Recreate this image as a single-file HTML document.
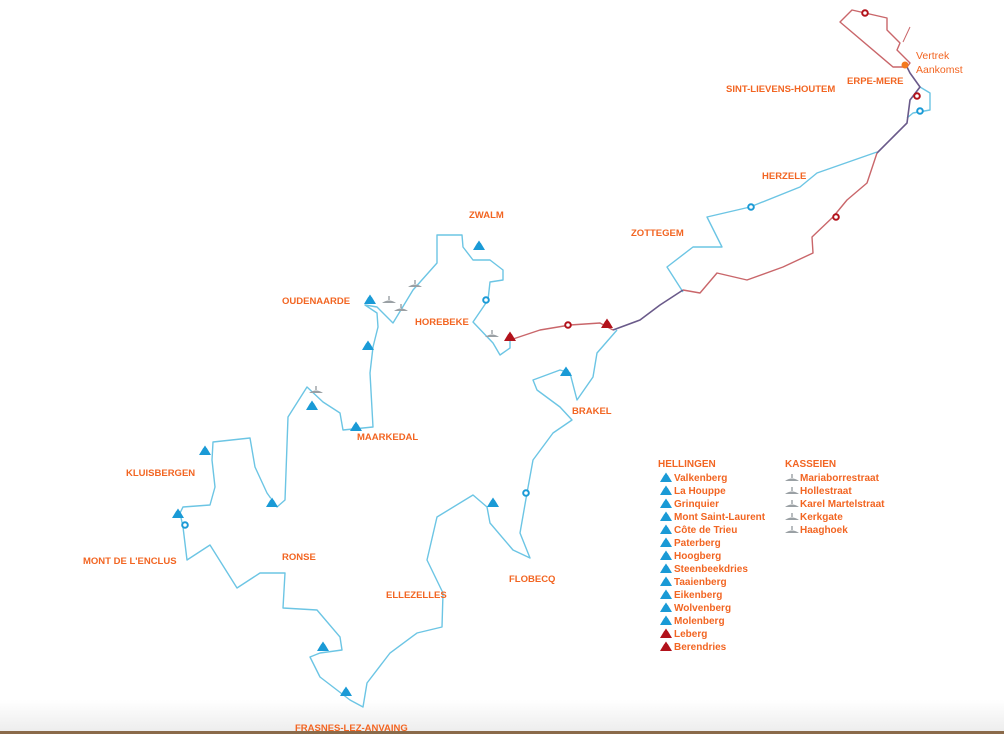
<!DOCTYPE html>
<html><head><meta charset="utf-8"><style>
html,body{margin:0;padding:0;background:#fff;}
body{width:1004px;height:734px;overflow:hidden;position:relative;font-family:"Liberation Sans",sans-serif;}
svg{position:absolute;left:0;top:0;}
.l{font-family:"Liberation Sans",sans-serif;font-weight:bold;fill:#f26522;font-size:9.5px;}
.g{font-family:"Liberation Sans",sans-serif;font-weight:bold;fill:#f26522;font-size:10px;}
</style></head><body>
<svg width="1004" height="734" viewBox="0 0 1004 734">
<defs>
<linearGradient id="bg" x1="0" y1="0" x2="0" y2="1"><stop offset="0" stop-color="#fff"/><stop offset="1" stop-color="#ececec"/></linearGradient>
<g id="hb"><path d="M-6,4 L0,-6 L6,4 Z" fill="#1a9ad6"/><path d="M-2,-3 L0,-6 L2,-3" fill="none" stroke="#fff" stroke-width="0.6"/></g>
<g id="hr"><path d="M-6,4 L0,-6 L6,4 Z" fill="#b2121b"/><path d="M-2,-3 L0,-6 L2,-3" fill="none" stroke="#fff" stroke-width="0.6"/></g>
<g id="kc"><path d="M-7,2 Q0,-3 7,2 Z" fill="#9aa0a4"/><rect x="-0.7" y="-5" width="1.4" height="4" fill="#9aa0a4"/></g>
</defs>
<rect x="0" y="700" width="1004" height="34" fill="url(#bg)"/>
<rect x="0" y="731" width="1004" height="3" fill="#8a6a4a"/>

<polyline fill="none" stroke="#6cc5e4" stroke-width="1.4" stroke-linejoin="round" points="617,330 597,353 593,377 577,400 570,373 560,370 533,380 537,390 560,407 572,420 553,433 533,460 527,493 520,533 530,558 513,550 490,523 487,507 473,495 437,517 427,560 443,593 442,627 417,633 390,653 367,683 363,707 350,700 320,677 310,657 320,653 342,650 340,637 317,610 283,608 285,573 260,573 237,588 210,545 187,560 183,527 180,513 183,507 210,505 215,487 212,460 213,442 250,438 255,467 267,493 277,507 285,500 288,417 307,387 323,402 340,413 343,430 373,427 370,373 373,347 378,327 377,313 365,305 377,307 393,323 413,290 437,263 437,235 462,235 463,247 473,260 490,260 503,270 503,280 490,282 488,300 473,322 493,343 500,355 510,348 510,333"/>
<polyline fill="none" stroke="#6cc5e4" stroke-width="1.4" stroke-linejoin="round" points="683,292 667,267 693,247 722,247 707,217 750,207 800,187 817,173 877,152"/>
<polyline fill="none" stroke="#6cc5e4" stroke-width="1.4" stroke-linejoin="round" points="920,87 930,93 930,110 913,113 907,118"/>
<polyline fill="none" stroke="#c9666a" stroke-width="1.4" stroke-linejoin="round" points="510,340 540,330 570,325 600,323 613,330"/>
<polyline fill="none" stroke="#c9666a" stroke-width="1.4" stroke-linejoin="round" points="683,290 700,293 717,273 747,280 783,267 813,253 812,237 833,217 847,200 867,183 877,153"/>
<polyline fill="none" stroke="#c9666a" stroke-width="1.4" stroke-linejoin="round" points="907,67 893,67 840,22 852,10 887,18 887,30 900,43 897,50 910,63 907,67"/>
<polyline fill="none" stroke="#c9666a" stroke-width="1" points="903,42 910,27 903,42"/>
<polyline fill="none" stroke="#6a5a8a" stroke-width="1.6" stroke-linejoin="round" points="613,330 640,320 660,305 683,290"/>
<polyline fill="none" stroke="#6a5a8a" stroke-width="1.6" stroke-linejoin="round" points="877,153 895,135 907,123 910,100 920,87 910,73 907,67"/>

<circle cx="905" cy="65" r="3.5" fill="#f47920"/>
<g fill="#fff" stroke="#b2121b" stroke-width="2"><circle cx="865" cy="13" r="2.8"/><circle cx="917" cy="96" r="2.8"/><circle cx="836" cy="217" r="2.8"/><circle cx="568" cy="325" r="2.8"/></g>
<g fill="#fff" stroke="#1a9ad6" stroke-width="2"><circle cx="920" cy="111" r="2.8"/><circle cx="751" cy="207" r="2.8"/><circle cx="486" cy="300" r="2.8"/><circle cx="526" cy="493" r="2.8"/><circle cx="185" cy="525" r="2.8"/></g>

<use href="#hb" x="479" y="246"/><use href="#hb" x="370" y="300"/><use href="#hb" x="368" y="346"/>
<use href="#hb" x="312" y="406"/><use href="#hb" x="356" y="427"/><use href="#hb" x="566" y="372"/>
<use href="#hb" x="205" y="451"/><use href="#hb" x="272" y="503"/><use href="#hb" x="178" y="514"/>
<use href="#hb" x="493" y="503"/><use href="#hb" x="323" y="647"/><use href="#hb" x="346" y="692"/>
<use href="#hr" x="510" y="337"/><use href="#hr" x="607" y="324"/>
<use href="#kc" x="415" y="285"/><use href="#kc" x="389" y="301"/><use href="#kc" x="401" y="309"/><use href="#kc" x="316" y="391"/><use href="#kc" x="492" y="335"/>

<text class="l" x="916" y="59" style="font-weight:normal;font-size:10.5px">Vertrek</text>
<text class="l" x="916" y="73" style="font-weight:normal;font-size:10.5px">Aankomst</text>
<text class="l" x="847" y="84">ERPE-MERE</text>
<text class="l" x="726" y="92">SINT-LIEVENS-HOUTEM</text>
<text class="l" x="762" y="179">HERZELE</text>
<text class="l" x="631" y="236">ZOTTEGEM</text>
<text class="l" x="469" y="218">ZWALM</text>
<text class="l" x="282" y="304">OUDENAARDE</text>
<text class="l" x="415" y="325">HOREBEKE</text>
<text class="l" x="572" y="414">BRAKEL</text>
<text class="l" x="357" y="440">MAARKEDAL</text>
<text class="l" x="126" y="476">KLUISBERGEN</text>
<text class="l" x="83" y="564">MONT DE L'ENCLUS</text>
<text class="l" x="282" y="560">RONSE</text>
<text class="l" x="386" y="598">ELLEZELLES</text>
<text class="l" x="509" y="582">FLOBECQ</text>
<text class="l" x="295" y="731">FRASNES-LEZ-ANVAING</text>

<text class="g" x="658" y="467">HELLINGEN</text>
<text class="g" x="785" y="467">KASSEIEN</text>
<use href="#hb" x="666" y="478"/><text class="g" x="674" y="481">Valkenberg</text>
<use href="#hb" x="666" y="491"/><text class="g" x="674" y="494">La Houppe</text>
<use href="#hb" x="666" y="504"/><text class="g" x="674" y="507">Grinquier</text>
<use href="#hb" x="666" y="517"/><text class="g" x="674" y="520">Mont Saint-Laurent</text>
<use href="#hb" x="666" y="530"/><text class="g" x="674" y="533">Côte de Trieu</text>
<use href="#hb" x="666" y="543"/><text class="g" x="674" y="546">Paterberg</text>
<use href="#hb" x="666" y="556"/><text class="g" x="674" y="559">Hoogberg</text>
<use href="#hb" x="666" y="569"/><text class="g" x="674" y="572">Steenbeekdries</text>
<use href="#hb" x="666" y="582"/><text class="g" x="674" y="585">Taaienberg</text>
<use href="#hb" x="666" y="595"/><text class="g" x="674" y="598">Eikenberg</text>
<use href="#hb" x="666" y="608"/><text class="g" x="674" y="611">Wolvenberg</text>
<use href="#hb" x="666" y="621"/><text class="g" x="674" y="624">Molenberg</text>
<use href="#hr" x="666" y="634"/><text class="g" x="674" y="637">Leberg</text>
<use href="#hr" x="666" y="647"/><text class="g" x="674" y="650">Berendries</text>
<use href="#kc" x="792" y="479"/><text class="g" x="800" y="481">Mariaborrestraat</text>
<use href="#kc" x="792" y="492"/><text class="g" x="800" y="494">Hollestraat</text>
<use href="#kc" x="792" y="505"/><text class="g" x="800" y="507">Karel Martelstraat</text>
<use href="#kc" x="792" y="518"/><text class="g" x="800" y="520">Kerkgate</text>
<use href="#kc" x="792" y="531"/><text class="g" x="800" y="533">Haaghoek</text>
</svg>
</body></html>
